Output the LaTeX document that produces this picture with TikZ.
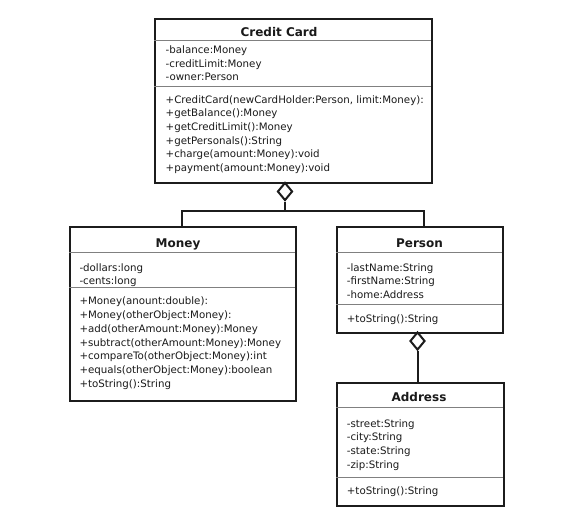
\documentclass[tikz,border=0pt]{standalone}
\usepackage{fontspec}
\setmainfont{DejaVu Sans}
\usetikzlibrary{shapes.geometric}
\definecolor{boxline}{HTML}{1C1C1C}
\definecolor{divline}{HTML}{808080}
\definecolor{txtcol}{HTML}{1A1A1A}
\newcommand\memberlist[5]{%
  \foreach \t [count=\i] in {#5}
    \node[member] (#1-\i) at (#2, {#3+(\i-1)*#4}) {\t};}
\begin{document}
\begin{tikzpicture}[x=1pt,y=-1pt,
  classbox/.style={draw=boxline, line width=2pt, inner sep=0pt, anchor=north west, fill=white},
  divider/.style={draw=divline, line width=0.9pt},
  title/.style={font=\fontsize{12}{14}\selectfont\bfseries, text=txtcol, inner sep=0pt, text height=8.7pt, text depth=0pt},
  member/.style={font=\fontsize{10.25}{12}\selectfont, text=txtcol, inner sep=0pt, anchor=west, text height=7.5pt, text depth=0pt},
  agg/.style={diamond, draw=boxline, line width=2pt, fill=white, inner sep=0pt, minimum width=15pt, minimum height=18pt},
  conn/.style={draw=boxline, line width=2pt},
]
\useasboundingbox (0,0) rectangle (582,528);
\fill[white] (0,0) rectangle (582,528);

% Credit Card
\node[classbox, minimum width=277pt, minimum height=163.5pt] (cc) at (154,18) {};
\draw[divider] (154,40.5) -- (431,40.5);
\draw[divider] (154,86.5) -- (431,86.5);
\node[title] (cc-t) at (279,31.7) {Credit Card};
\memberlist{cca}{165.5}{50}{13.35}{-balance:Money,-creditLimit:Money,-owner:Person}
\memberlist{ccm}{165.5}{99.3}{13.7}{{+CreditCard(newCardHolder:Person, limit:Money):},+getBalance():Money,+getCreditLimit():Money,+getPersonals():String,+charge(amount:Money):void,+payment(amount:Money):void}

% Money
\node[classbox, minimum width=226pt, minimum height=173.5pt] (money) at (69,226) {};
\draw[divider] (69,252.5) -- (295,252.5);
\draw[divider] (69,287.5) -- (295,287.5);
\node[title] (money-t) at (178,243.3) {Money};
\memberlist{ma}{79.3}{267.7}{12.6}{-dollars:long,-cents:long}
\memberlist{mm}{79.3}{301}{13.8}{+Money(anount:double):,+Money(otherObject:Money):,+add(otherAmount:Money):Money,+subtract(otherAmount:Money):Money,+compareTo(otherObject:Money):int,+equals(otherObject:Money):boolean,+toString():String}

% Person
\node[classbox, minimum width=166pt, minimum height=106pt] (person) at (336,225.5) {};
\draw[divider] (336,252.5) -- (502,252.5);
\draw[divider] (336,304) -- (502,304);
\node[title] (person-t) at (419.5,242.7) {Person};
\memberlist{pa}{346.7}{267.3}{13.5}{-lastName:String,-firstName:String,-home:Address}
\memberlist{pm}{346.7}{319}{13.5}{+toString():String}

% Address
\node[classbox, minimum width=166.5pt, minimum height=123.5pt] (addr) at (336,381.5) {};
\draw[divider] (336,407.5) -- (502.5,407.5);
\draw[divider] (336,477.5) -- (502.5,477.5);
\node[title] (addr-t) at (419,396.7) {Address};
\memberlist{aa}{346.7}{423.3}{13.7}{-street:String,-city:String,-state:String,-zip:String}
\memberlist{am}{346.7}{491}{13.5}{+toString():String}

% aggregation: Credit Card - Money / Person
\node[agg] (d1) at (285,191.5) {};
\coordinate (j) at (285,210.5);
\draw[conn] (d1.south) -- (j);
\draw[conn] ([xshift=113pt]money.north west) |- (j) -| ([xshift=88pt]person.north west);

% aggregation: Person - Address
\node[agg] (d2) at (417.5,341) {};
\draw[conn] (d2.south) -- (d2.south |- addr.north);
\end{tikzpicture}
\end{document}
